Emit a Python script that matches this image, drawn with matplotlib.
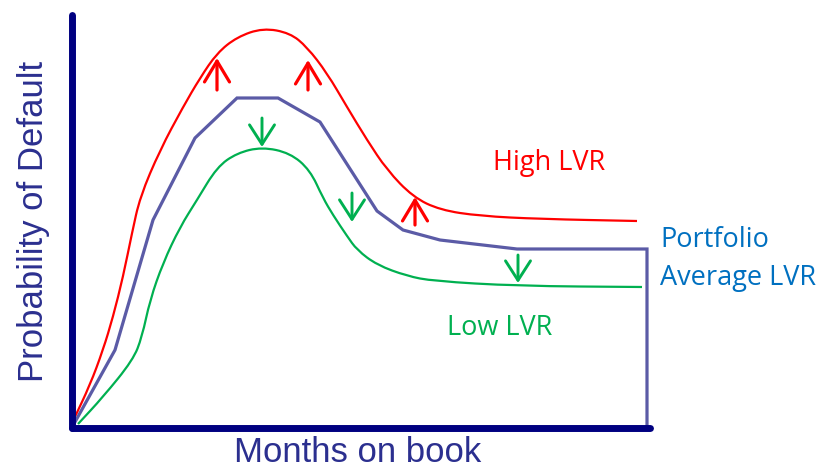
import matplotlib
matplotlib.use('Agg')
import matplotlib.pyplot as plt
from matplotlib.patches import FancyArrowPatch, PathPatch
from matplotlib.path import Path

# months on book (arbitrary units) vs probability of default (arbitrary units)
portfolio_x = [3, 43, 81, 123, 165, 206, 248, 305, 331, 368, 445, 575, 575]
portfolio_y = [6, 78, 208, 290, 330, 330, 306, 217, 198, 188, 179, 179, 0]

high_x = [1, 18, 31, 41, 51, 60, 68, 88, 111, 128, 145, 165, 191, 218, 235,
          255, 275, 295, 315, 341, 368, 408, 468, 565]
high_y = [7, 43, 78, 111, 151, 195, 231, 278, 321, 350, 375, 391, 400, 395, 381,
          355, 321, 288, 258, 231, 218, 212, 209, 207]

low_x = [6, 31, 61, 70, 78, 91, 108, 125, 145, 165, 190, 218, 238, 251, 261,
         275, 285, 305, 335, 361, 445, 570]
low_y = [4, 31, 68, 91, 128, 165, 201, 228, 261, 275, 281, 275, 258, 230, 213,
         192, 178, 163, 152, 147, 142, 141]

# arrows: (x, y_tail, y_tip)
up_arrows = [(145, 338, 370), (236, 338, 368), (343, 203, 231)]
down_arrows = [(190, 310, 281), (280, 235, 206), (446, 173, 145)]

RED = '#FF0000'
GREEN = '#00B050'
LINE_BLUE = '#5B5BA6'
NAVY = '#000080'
TEXT_NAVY = '#2B2F8F'
OFFICE_BLUE = '#0070C0'


def smooth_path(xs, ys):
    # quadratic bezier through the midpoints, the read points act as controls
    pts = list(zip(xs, ys))
    verts = [pts[0]]
    codes = [Path.MOVETO]
    mid = lambda a, b: ((a[0] + b[0]) / 2, (a[1] + b[1]) / 2)
    verts.append(mid(pts[0], pts[1]))
    codes.append(Path.LINETO)
    for i in range(1, len(pts) - 1):
        verts += [pts[i], mid(pts[i], pts[i + 1])]
        codes += [Path.CURVE3, Path.CURVE3]
    verts.append(pts[-1])
    codes.append(Path.LINETO)
    return Path(verts, codes)


fig = plt.figure(figsize=(8.21, 4.68), dpi=100)
ax = fig.add_axes([72 / 821, 40 / 468, 578 / 821, 413 / 468])
ax.set_xlim(0, 578)
ax.set_ylim(0, 413)

ax.add_patch(PathPatch(smooth_path(high_x, high_y), fill=False, edgecolor=RED, lw=1.6))
ax.add_patch(PathPatch(smooth_path(low_x, low_y), fill=False, edgecolor=GREEN, lw=1.6))
ax.plot(portfolio_x, portfolio_y, color=LINE_BLUE, lw=2.3, solid_joinstyle='miter')

for x, y0, y1 in up_arrows:
    ax.add_patch(FancyArrowPatch((x, y0), (x, y1), arrowstyle='->,head_length=0.75,head_width=0.45',
                                 mutation_scale=20, color=RED, lw=2.3, shrinkA=0, shrinkB=0))
for x, y0, y1 in down_arrows:
    ax.add_patch(FancyArrowPatch((x, y0), (x, y1), arrowstyle='->,head_length=0.7,head_width=0.45',
                                 mutation_scale=20, color=GREEN, lw=2.1, shrinkA=0, shrinkB=0))

ax.text(477, 265, 'High LVR', color=RED, fontsize=19.5, family='Open Sans',
        ha='center', va='center')
ax.text(428, 100, 'Low LVR', color=GREEN, fontsize=19.5, family='Open Sans',
        ha='center', va='center')
ax.text(588, 188, 'Portfolio', color=OFFICE_BLUE, fontsize=19.5, family='Open Sans',
        ha='left', va='center', clip_on=False)
ax.text(588, 150, 'Average LVR', color=OFFICE_BLUE, fontsize=19.5, family='Open Sans',
        ha='left', va='center', clip_on=False)

fig.text(358 / 821, 1 - 452 / 468, 'Months on book', color=TEXT_NAVY, fontsize=25,
         family='Liberation Sans', ha='center', va='center')
fig.text(33 / 821, 1 - 221 / 468, 'Probability of Default', color=TEXT_NAVY, fontsize=25,
         family='Liberation Sans', ha='center', va='center', rotation=90)

for side in ['top', 'right']:
    ax.spines[side].set_visible(False)
for side in ['left', 'bottom']:
    ax.spines[side].set_color(NAVY)
    ax.spines[side].set_linewidth(5)
    ax.spines[side].set_capstyle('round')
ax.set_xticks([])
ax.set_yticks([])

fig.savefig('out.png', dpi=100)
